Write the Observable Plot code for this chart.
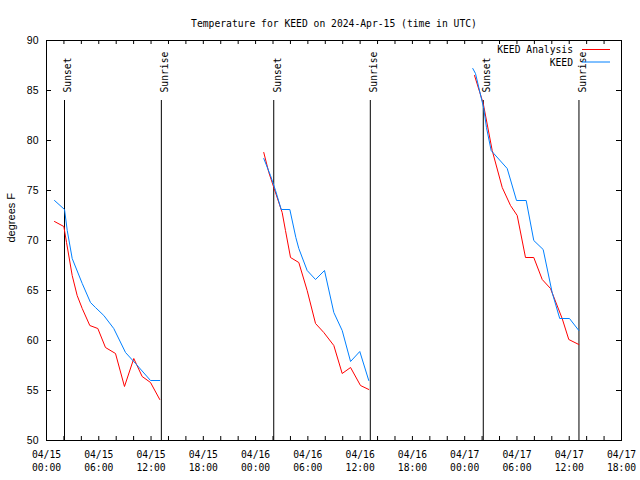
<!DOCTYPE html>
<html><head><meta charset="utf-8">
<script src="https://cdn.jsdelivr.net/npm/d3@7"></script>
<script src="https://cdn.jsdelivr.net/npm/@observablehq/plot@0.6"></script>
<style>body{margin:0;background:#fff}</style>
</head><body><div id="chart"></div>
<script>
// ---- data (hours after 2024-04-15 00:00 UTC, temperature °F) ----
const titleText = "Temperature for KEED on 2024-Apr-15 (time in UTC)";
const yLabel = "degrees F";
const seriesNames = ["KEED Analysis", "KEED"];
const seriesColors = ["#ff0000", "#0080ff"];

const analysisNight1 = [[0.92,71.9],[1.99,71.4],[2.30,69.8],[2.95,66.5],[3.52,64.5],[4.10,63.2],[4.97,61.5],[5.89,61.2],[6.77,59.3],[7.92,58.7],[8.95,55.4],[10.02,58.2],[10.98,56.4],[11.94,55.8],[13.00,54.1]];
const analysisNight2 = [[24.94,78.8],[25.52,76.8],[26.09,75.3],[27.05,72.8],[27.43,71.0],[28.01,68.3],[28.96,67.8],[29.92,65.0],[30.88,61.7],[31.83,60.8],[32.98,59.5],[33.94,56.7],[34.90,57.3],[36.04,55.5],[36.99,55.1]];
const analysisNight3 = [[49.13,86.5],[50.13,83.7],[51.16,79.0],[52.31,75.3],[53.26,73.5],[54.03,72.5],[54.98,68.3],[55.93,68.3],[56.90,66.1],[57.85,65.2],[59.19,62.2],[59.95,60.1],[61.10,59.6]];

const keedNight1 = [[0.92,74.0],[2.07,73.1],[2.38,71.0],[2.95,68.2],[4.10,65.7],[5.05,63.8],[5.62,63.3],[6.58,62.5],[7.72,61.2],[9.07,58.8],[10.22,57.7],[11.94,56.0],[13.00,56.0]];
const keedNight2 = [[24.94,78.2],[25.71,76.5],[26.29,75.0],[26.94,73.1],[27.93,73.1],[28.62,70.3],[28.96,69.2],[29.92,67.0],[30.88,66.1],[31.91,67.0],[32.98,62.8],[33.94,61.0],[34.90,57.9],[35.96,58.9],[36.99,56.0]];
const keedNight3 = [[48.93,87.2],[49.24,86.7],[50.19,83.2],[50.50,81.3],[51.04,79.0],[51.34,78.7],[52.88,77.2],[53.95,74.0],[55.06,74.0],[55.93,70.0],[57.01,69.1],[58.04,64.8],[58.91,62.2],[60.03,62.2],[61.10,61.0]];

const sunEvents = [
  ["Sunset", "2024-04-15T02:04Z"], ["Sunrise", "2024-04-15T13:11Z"],
  ["Sunset", "2024-04-16T02:05Z"], ["Sunrise", "2024-04-16T13:10Z"],
  ["Sunset", "2024-04-17T02:08Z"], ["Sunrise", "2024-04-17T13:07Z"]
];
const xStart = "2024-04-15T00:00Z";
const xEnd = "2024-04-17T18:00Z";
const yTicks = [50, 55, 60, 65, 70, 75, 80, 85, 90];

// ---- build tables ----
const t0 = new Date(xStart).getTime();
const toDate = h => new Date(t0 + h * 3600e3);
const rows = [];
[[analysisNight1, analysisNight2, analysisNight3], [keedNight1, keedNight2, keedNight3]].forEach((nights, s) => {
  nights.forEach((arr, n) => arr.forEach(([h, v]) => rows.push({series: seriesNames[s], night: s + "-" + n, t: toDate(h), v})));
});
const events = sunEvents.map(([label, t]) => ({label, t: new Date(t)}));
const start = new Date(xStart), end = new Date(xEnd);
const ticks2h = d3.utcHour.every(2).range(start, new Date(end.getTime() + 1));
const ticks6h = d3.utcHour.every(6).range(start, new Date(end.getTime() + 1));
const fmt = d3.utcFormat("%m/%d\n%H:%M");

const mono = "DejaVu Sans Mono";
const sans = "Liberation Sans";
const W = 640, H = 480, ML = 46, MR = 19, MT = 40, MB = 40;
const fw = W - ML - MR, fh = H - MT - MB;

const legendMark = (index, scales, values, dims) => {
  const g = d3.create("svg:g").attr("font-family", mono).attr("font-size", "9.7px");
  const right = dims.width - dims.marginRight;
  seriesNames.forEach((name, i) => {
    const y = dims.marginTop + 10 + i * 12.5;
    g.append("text").attr("x", right - 48).attr("y", y).attr("dy", "0.35em")
      .attr("text-anchor", "end").attr("fill", "black").text(name);
    g.append("line").attr("x1", right - 39).attr("x2", right - 11)
      .attr("y1", y - 0.5).attr("y2", y - 0.5).attr("stroke", seriesColors[i]);
  });
  return g.node();
};

const chart = Plot.plot({
  width: W, height: H,
  marginLeft: ML, marginRight: MR, marginTop: MT, marginBottom: MB,
  x: {type: "utc", domain: [start, end], axis: null},
  y: {domain: [50, 90], axis: null},
  color: {domain: seriesNames, range: seriesColors},
  style: {background: "white", color: "black", fontFamily: mono, fontSize: "9.7px"},
  marks: [
    Plot.ruleX(events, {x: "t", insetTop: 60, stroke: "black", strokeWidth: 1}),
    Plot.text(events, {x: "t", frameAnchor: "top", dy: 52, text: "label", rotate: -90, textAnchor: "start", fill: "black", fontFamily: mono, fontSize: 9.7}),
    Plot.line(rows, {x: "t", y: "v", z: "night", stroke: "series", strokeWidth: 1}),
    Plot.frame({stroke: "black"}),
    Plot.tickX(ticks2h, {x: d => d, insetTop: fh - 4, stroke: "black"}),
    Plot.tickX(ticks2h, {x: d => d, insetBottom: fh - 4, stroke: "black"}),
    Plot.tickY(yTicks, {y: d => d, insetRight: fw - 5, stroke: "black"}),
    Plot.tickY(yTicks, {y: d => d, insetLeft: fw - 5, stroke: "black"}),
    Plot.text(ticks6h, {x: d => d, text: d => fmt(d), frameAnchor: "bottom", lineAnchor: "top", dy: 9, lineHeight: 1.3, fill: "black", fontFamily: mono, fontSize: 9.7}),
    Plot.text(yTicks, {y: d => d, text: d => String(d), frameAnchor: "left", textAnchor: "end", dx: -8, fill: "black", fontFamily: sans, fontSize: 10.5}),
    Plot.text([yLabel], {text: d => d, frameAnchor: "left", dx: -35, dy: 2, rotate: -90, fill: "black", fontFamily: sans, fontSize: 11}),
    Plot.text([titleText], {text: d => d, frameAnchor: "top", dy: -20, fill: "black", fontFamily: mono, fontSize: 9.7}),
    legendMark
  ]
});
document.getElementById("chart").appendChild(chart);
</script></body></html>
